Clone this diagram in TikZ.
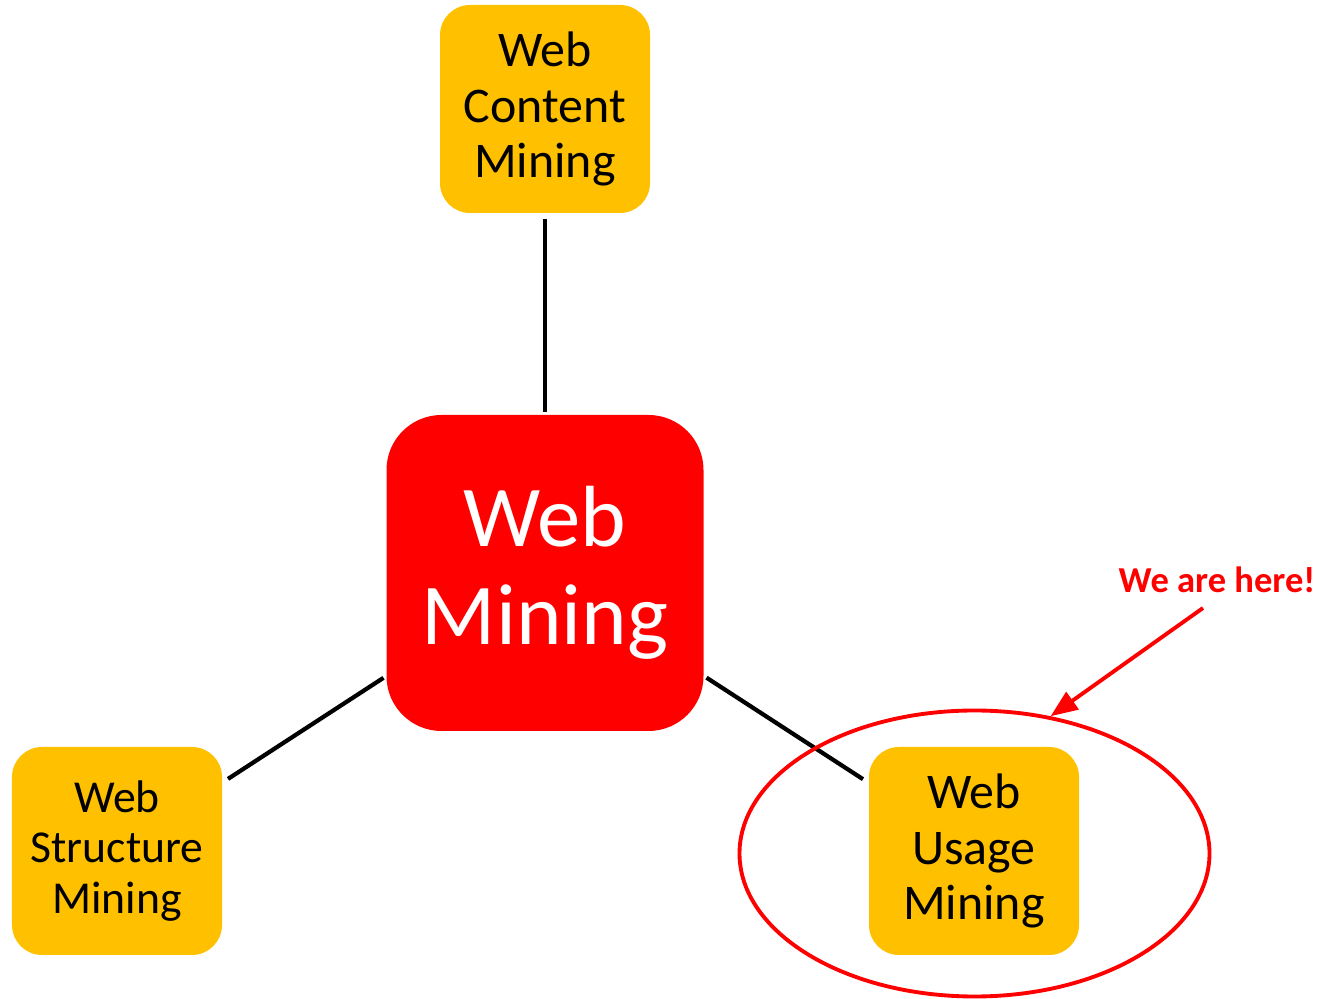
\documentclass[tikz,border=0pt]{standalone}
\usepackage{fontspec}
\setmainfont{Carlito}
\usepackage{xcolor}
\definecolor{wmyellow}{RGB}{255,192,0}
\definecolor{wmred}{RGB}{255,0,0}
\usetikzlibrary{arrows.meta, positioning, shapes.geometric}

\tikzset{
  areabox/.style={draw=none, fill=wmyellow, rounded corners=0.3cm,
    minimum width=2.1cm, minimum height=2.08cm, align=center,
    text=black, outer sep=0.06cm, inner sep=0pt},
  hubbox/.style={draw=none, fill=wmred, rounded corners=0.55cm,
    minimum width=3.17cm, minimum height=3.16cm, align=center,
    text=white, outer sep=0.03cm, inner sep=0pt},
  link/.style={draw=black, line width=1.2pt},
  pointer/.style={draw=wmred, line width=1.1pt,
    -{Triangle[length=0.27cm, width=0.21cm]}}
}

\begin{document}
\begin{tikzpicture}
  \useasboundingbox (0,0) rectangle (13.28,9.99);

  % Central topic
  \node[hubbox, font=\fontsize{24.7}{27.8}\selectfont] (hub) at (5.45,4.26) {Web\\Mining};

  % --- Three kinds of web mining ---
  \node[areabox, font=\fontsize{14.2}{15.7}\selectfont] (content) at (5.45,8.90)
       {Web\\Content\\Mining};
  \node[areabox, font=\fontsize{13}{14.3}\selectfont] (structure) at (1.17,1.48)
       {Web\\Structure\\Mining};
  \node[areabox, font=\fontsize{14.2}{15.7}\selectfont] (usage) at (9.74,1.48)
       {Web\\Usage\\Mining};

  % Links to the hub
  \draw[link] (content) -- (hub);
  \draw[link] (hub) -- (structure);
  \draw[link] (hub) -- (usage);

  % --- Highlight: usage mining ---
  \node[ellipse, draw=wmred, line width=1.1pt, minimum width=4.7cm,
        minimum height=2.86cm, inner sep=0pt] (ring) at (9.745,1.455) {};
  \node[font=\bfseries\fontsize{10.4}{12}\selectfont, text=wmred] (note) at (12.17,4.19)
       {We are here!};
  \coordinate (tail) at (12.03,3.91);
  \draw[pointer] (tail) -- (ring.61);
\end{tikzpicture}
\end{document}
